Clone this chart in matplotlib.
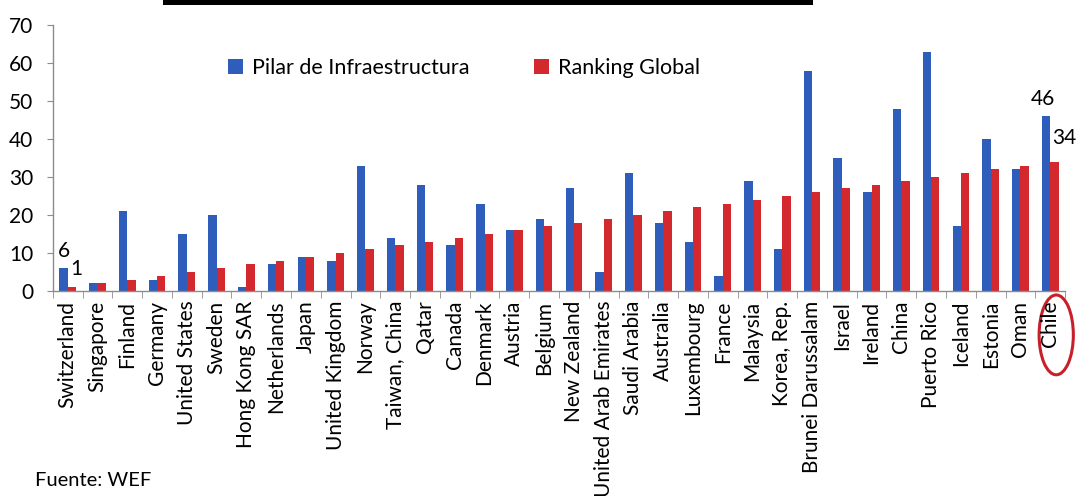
import matplotlib
matplotlib.use("Agg")
import matplotlib.pyplot as plt
import numpy as np
from matplotlib.patches import Ellipse
from matplotlib.lines import Line2D
from matplotlib.transforms import blended_transform_factory

plt.rcParams['font.family'] = ['Lato', 'DejaVu Sans']

paises = ["Switzerland", "Singapore", "Finland", "Germany", "United States", "Sweden",
          "Hong Kong SAR", "Netherlands", "Japan", "United Kingdom", "Norway",
          "Taiwan, China", "Qatar", "Canada", "Denmark", "Austria", "Belgium",
          "New Zealand", "United Arab Emirates", "Saudi Arabia", "Australia",
          "Luxembourg", "France", "Malaysia", "Korea, Rep.", "Brunei Darussalam",
          "Israel", "Ireland", "China", "Puerto Rico", "Iceland", "Estonia", "Oman", "Chile"]
infraestructura = [6, 2, 21, 3, 15, 20, 1, 7, 9, 8, 33, 14, 28, 12, 23, 16, 19, 27, 5, 31,
                   18, 13, 4, 29, 11, 58, 35, 26, 48, 63, 17, 40, 32, 46]
ranking_global = [1, 2, 3, 4, 5, 6, 7, 8, 9, 10, 11, 12, 13, 14, 15, 16, 17, 18, 19, 20,
                  21, 22, 23, 24, 25, 26, 27, 28, 29, 30, 31, 32, 33, 34]

azul = "#2f5dbb"
rojo = "#d2282e"
gris = "#8c8c8c"

fig = plt.figure(figsize=(10.77, 4.96), dpi=100)
ax = fig.add_axes([0.049, 0.4133, 0.94, 0.5363])

x = np.arange(len(paises))
w = 0.28
ax.bar(x - w / 2, infraestructura, w, color=azul, label="Pilar de Infraestructura")
ax.bar(x + w / 2, ranking_global, w, color=rojo, label="Ranking Global")

ax.set_xlim(-0.5, len(paises) - 0.5)
ax.set_ylim(0, 70)
ax.set_yticks(range(0, 71, 10))

for s in ["top", "right"]:
    ax.spines[s].set_visible(False)
for s in ["left", "bottom"]:
    ax.spines[s].set_color(gris)
    ax.spines[s].set_linewidth(1)

ax.set_xticks(x)
ax.set_xticklabels(paises, rotation=90, fontsize=15)
ax.set_xticks(np.arange(-0.5, len(paises)), minor=True)
ax.tick_params(axis="x", which="major", length=0, pad=7)
ax.tick_params(axis="x", which="minor", length=5, color=gris, direction="out")
ax.tick_params(axis="y", length=4, color=gris, pad=10, labelsize=15)

# etiquetas de valores (Suiza y Chile)
ax.annotate(str(infraestructura[0]), (x[0] - w / 2, infraestructura[0]),
            xytext=(0, 8), textcoords="offset points", ha="center", fontsize=15)
ax.annotate(str(ranking_global[0]), (x[0] + w / 2, ranking_global[0]),
            xytext=(3, 9), textcoords="offset points", ha="center", fontsize=15)
ax.annotate(str(infraestructura[-1]), (x[-1] - w / 2, infraestructura[-1]),
            xytext=(-2, 8), textcoords="offset points", ha="center", fontsize=15)
ax.annotate(str(ranking_global[-1]), (x[-1] + w / 2, ranking_global[-1]),
            xytext=(7, 13), textcoords="offset points", ha="center", fontsize=15)

ax.legend(loc="upper center", bbox_to_anchor=(0.406, 0.95), ncol=2, frameon=False,
          fontsize=15.5, handlelength=0.7, handleheight=0.7, columnspacing=3.0,
          handletextpad=0.4)

# elipse roja alrededor de Chile
tr = blended_transform_factory(ax.transData, ax.transAxes)
ax.add_patch(Ellipse((x[-1] + 0.2, -0.165), 1.15, 0.30, transform=tr, fill=False,
                     edgecolor="#c8202a", linewidth=2.2, clip_on=False))

# barra negra superior
fig.add_artist(Line2D([165 / 1077, 810 / 1077], [1 - 2 / 496, 1 - 2 / 496],
                      color="black", linewidth=3.6, transform=fig.transFigure))

fig.text(35 / 1077, 1 - 480 / 496, "Fuente: WEF", fontsize=14.5, va="center")

fig.savefig("out.png", dpi=100)
